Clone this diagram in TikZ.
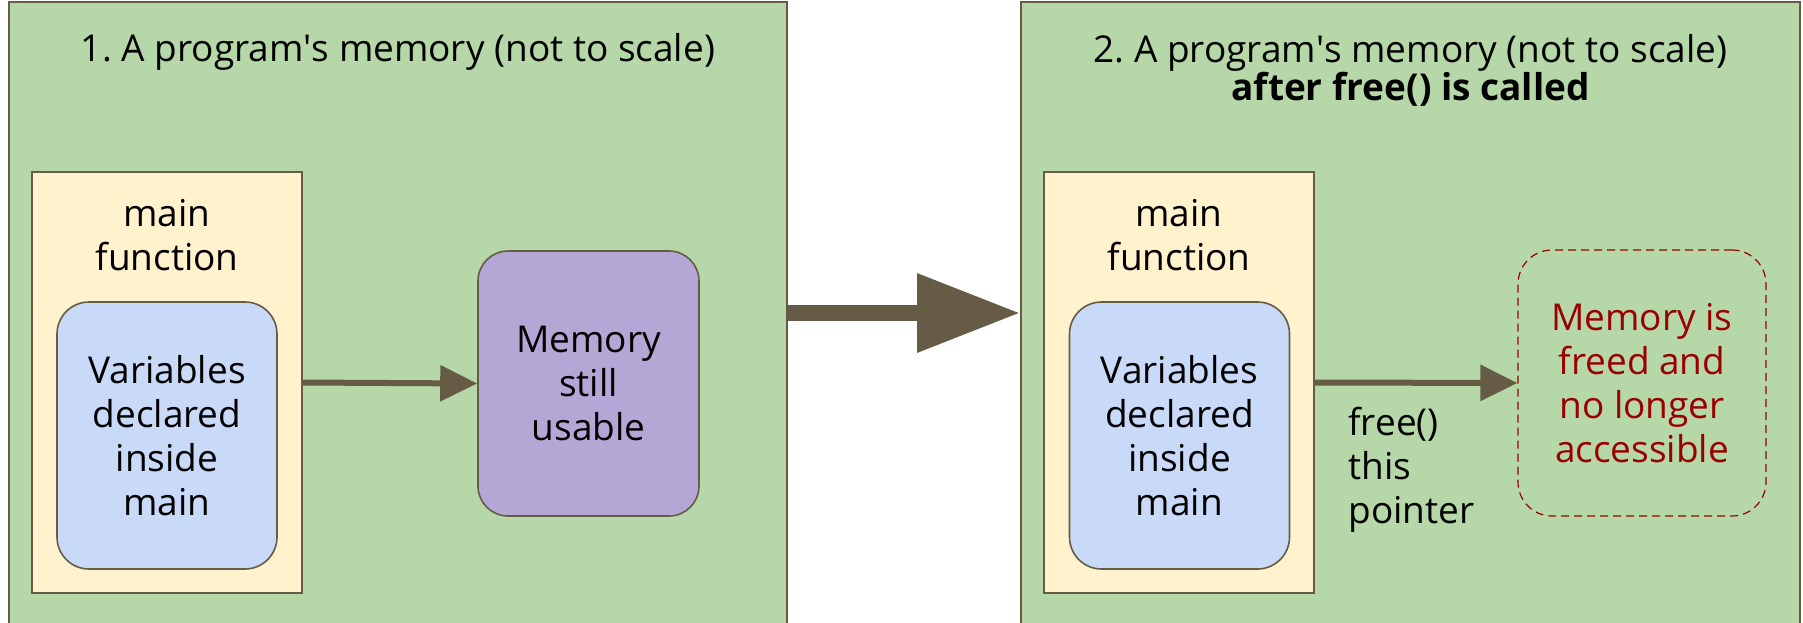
\documentclass[tikz,border=0pt]{standalone}
\usepackage{fontspec}
\setmainfont{Open Sans}
\usetikzlibrary{arrows.meta}

\definecolor{panelgreen}{HTML}{B6D7A8}
\definecolor{mainyellow}{HTML}{FFF2CC}
\definecolor{varblue}{HTML}{C9DAF8}
\definecolor{mempurple}{HTML}{B4A7D6}
\definecolor{edgebrown}{HTML}{665C46}
\definecolor{freedred}{HTML}{990000}

\begin{document}
\frenchspacing
\begin{tikzpicture}[x=0.5pt,y=-0.5pt,
  panel/.style={draw=edgebrown,line width=0.8pt,fill=panelgreen,minimum width=389pt,minimum height=311pt,inner sep=0pt},
  main box/.style={draw=edgebrown,line width=0.8pt,fill=mainyellow,minimum width=135pt,minimum height=210.5pt,inner sep=0pt},
  var box/.style={draw=edgebrown,line width=0.8pt,fill=varblue,rounded corners=16pt,minimum width=110pt,minimum height=133.5pt,inner sep=0pt,align=center},
  mem box/.style={draw=edgebrown,line width=0.8pt,fill=mempurple,rounded corners=15pt,minimum width=110.5pt,minimum height=132.5pt,inner sep=0pt,align=center},
  freed box/.style={draw=freedred,line width=0.6pt,dash pattern=on 4pt off 2.5pt,rounded corners=17pt,minimum width=124pt,minimum height=133pt,inner sep=0pt,align=center,text=freedred},
  txt/.style={font=\fontsize{18.5pt}{22pt}\selectfont},
  title/.style={font=\fontsize{18.5pt}{19pt}\selectfont,align=center,inner sep=0pt},
  link/.style={draw=edgebrown,line width=3pt,-{Triangle[length=18.5pt,width=17.5pt]}},
  big link/.style={draw=edgebrown,line width=8pt,-{Triangle[length=51.5pt,width=37.5pt]}}]

  \useasboundingbox (0,0) rectangle (1803,622);

  % left panel
  \node[panel] (panel1) at (398,313) {};
  \node[title] (title1) at (398,52) {1. A program\textquotesingle s memory (not to scale)};
  \node[main box] (main1) at (167,382.5) {};
  \node[txt,align=center,inner sep=0pt] (mainlabel1) at (167,235.5) {main\\function};
  \node[var box,txt] (vars1) at (167,435.5) {Variables\\declared\\inside\\main};
  \node[mem box,txt] (mem1) at (588.5,383.5) {Memory\\still\\usable};

  % right panel
  \node[panel,minimum width=389.5pt] (panel2) at (1410.5,313) {};
  \node[title] (title2) at (1410.5,70.5) {2. A program\textquotesingle s memory (not to scale)\\\textbf{after free() is called}};
  \node[main box] (main2) at (1179,382.5) {};
  \node[txt,align=center,inner sep=0pt] (mainlabel2) at (1179,235.5) {main\\function};
  \node[var box,txt] (vars2) at (1179.5,435.5) {Variables\\declared\\inside\\main};
  \node[freed box,txt] (freed) at (1642,383) {Memory is\\freed and\\no longer\\accessible};
  \node[txt,align=left,anchor=west,inner sep=0pt] (freelabel) at (1348,470) {free()\\this\\pointer};

  % connectors
  \path[link] (main1.east) -- (mem1.west);
  \path[link] (main2.east) -- (freed.west);
  \path[big link] (panel1.east) -- (panel2.west);
\end{tikzpicture}
\end{document}
